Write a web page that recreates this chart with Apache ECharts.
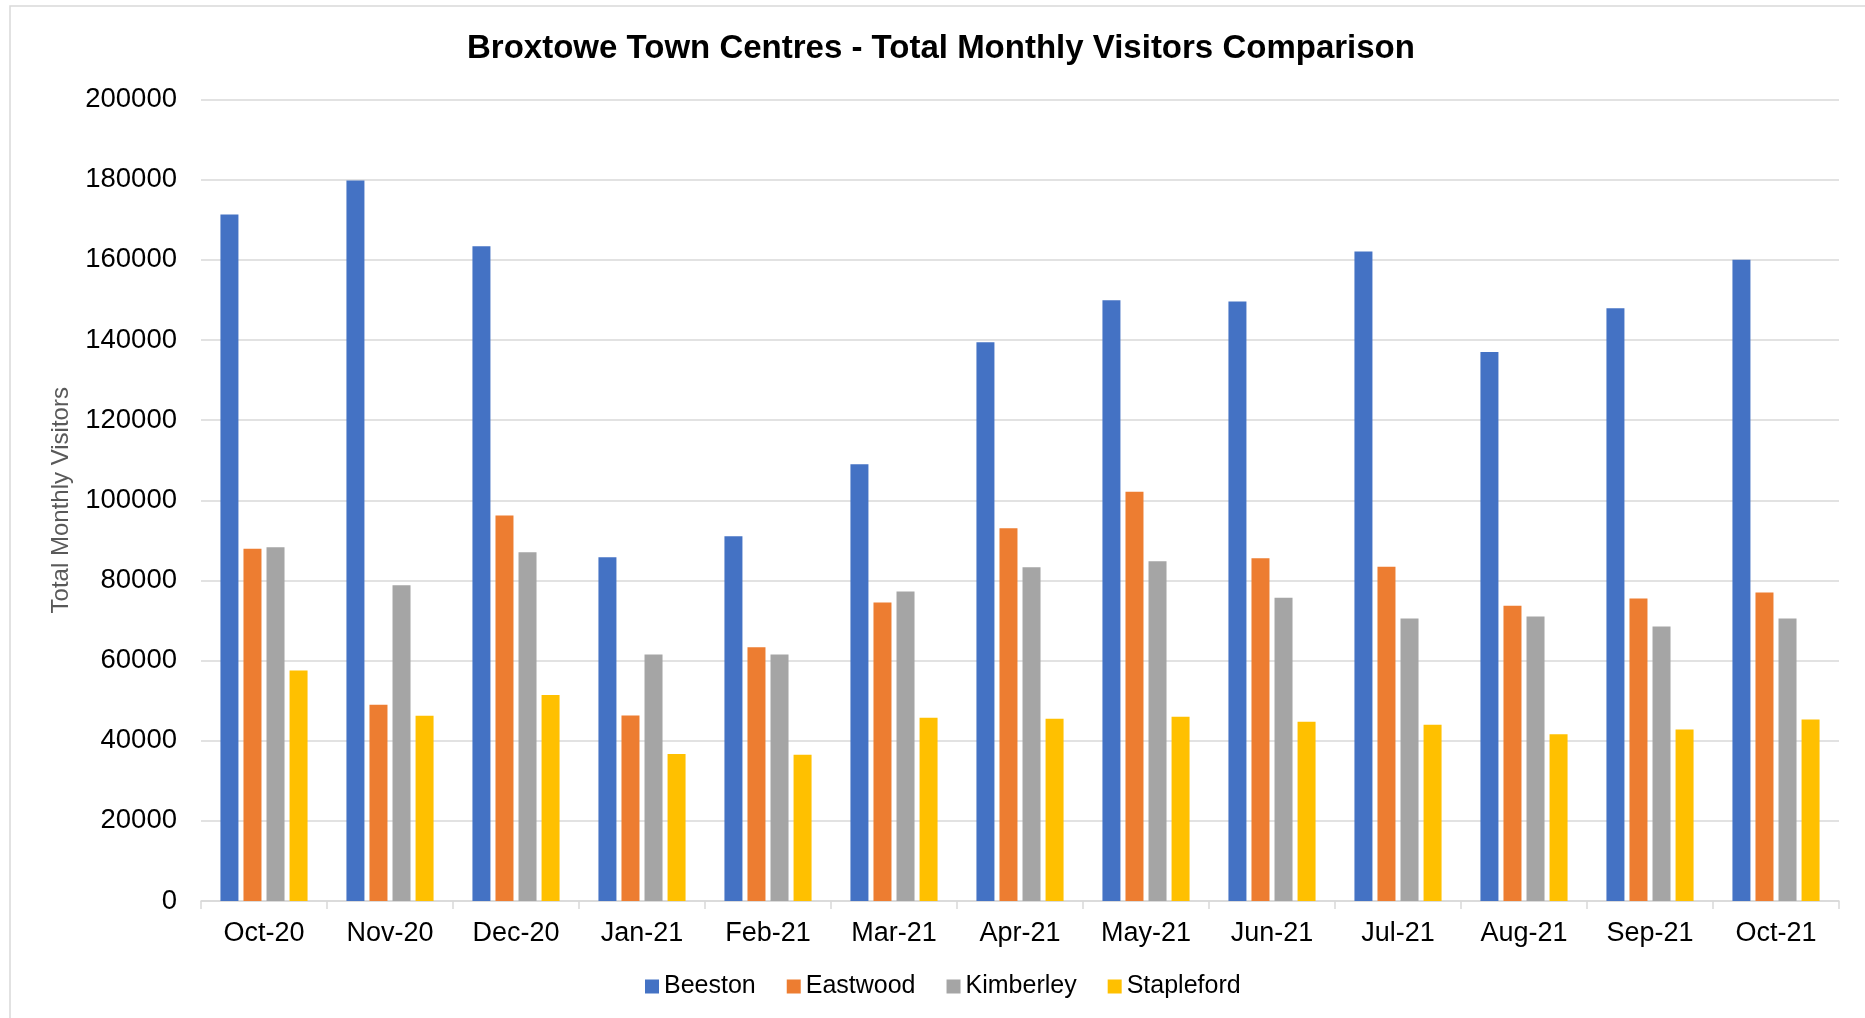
<!DOCTYPE html>
<html>
<head>
<meta charset="utf-8">
<style>
  html, body { margin: 0; padding: 0; background: #ffffff; }
  #chart { width: 1865px; height: 1018px; }
</style>
<script src="https://cdn.jsdelivr.net/npm/echarts@6/dist/echarts.min.js"></script>
</head>
<body>
<div id="chart"></div>
<script>
const categories = ['Oct-20','Nov-20','Dec-20','Jan-21','Feb-21','Mar-21','Apr-21','May-21','Jun-21','Jul-21','Aug-21','Sep-21','Oct-21'];
const beeston    = [171300, 179800, 163400, 85800, 91000, 109000, 139400, 149900, 149600, 162100, 137000, 147900, 160000];
const eastwood   = [87900, 49000, 96200, 46300, 63300, 74500, 93000, 102100, 85500, 83400, 73700, 75500, 77000];
const kimberley  = [88300, 78800, 87000, 61500, 61500, 77200, 83300, 84800, 75700, 70500, 71000, 68500, 70500];
const stapleford = [57500, 46200, 51400, 36700, 36500, 45700, 45500, 46000, 44700, 44000, 41600, 42800, 45300];
const seriesNames = ['Beeston', 'Eastwood', 'Kimberley', 'Stapleford'];
const seriesColors = ['#4472C4', '#ED7D31', '#A5A5A5', '#FFC000'];
const seriesData = [beeston, eastwood, kimberley, stapleford];

const FONT = '"Liberation Sans", Arial, Helvetica, sans-serif';

const chart = echarts.init(document.getElementById('chart'), null, { renderer: 'canvas' });
chart.setOption({
  animation: false,
  backgroundColor: '#ffffff',
  textStyle: { fontFamily: FONT },
  graphic: [{
    type: 'rect',
    shape: { x: 10, y: 6, width: 2000, height: 2000 },
    style: { fill: 'none', stroke: '#d9d9d9', lineWidth: 1.5 },
    silent: true,
    z: -10
  }],
  title: {
    text: 'Broxtowe Town Centres - Total Monthly Visitors Comparison',
    left: 467,
    top: 32,
    padding: 0,
    textStyle: { fontFamily: FONT, fontSize: 33, fontWeight: 'bold', color: '#000000' }
  },
  legend: {
    data: seriesNames,
    left: 645,
    top: 974,
    padding: 0,
    itemWidth: 14,
    itemHeight: 14,
    itemGap: 31,
    icon: 'rect',
    textStyle: { fontFamily: FONT, fontSize: 25, color: '#000000' }
  },
  grid: {
    left: 201,
    right: 26,
    top: 99.5,
    bottom: 117,
    containLabel: false
  },
  xAxis: {
    type: 'category',
    data: categories,
    boundaryGap: true,
    axisLine: { show: true, lineStyle: { color: '#d9d9d9', width: 1.5 } },
    axisTick: { show: true, length: 8, lineStyle: { color: '#d9d9d9', width: 1.5 } },
    axisLabel: { fontFamily: FONT, fontSize: 27, color: '#000000', margin: 19, interval: 0 },
    splitLine: { show: false }
  },
  yAxis: {
    type: 'value',
    min: 0,
    max: 200000,
    interval: 20000,
    name: 'Total Monthly Visitors',
    nameLocation: 'middle',
    nameGap: 128,
    nameTextStyle: { fontFamily: FONT, fontSize: 24, color: '#595959' },
    axisLine: { show: false },
    axisTick: { show: false },
    axisLabel: {
      fontFamily: FONT, fontSize: 27.5, color: '#000000', margin: 24,
      formatter: function (v) { return String(v); }
    },
    splitLine: { show: true, lineStyle: { color: '#d9d9d9', width: 1.5 } }
  },
  series: seriesNames.map((name, i) => ({
    name: name,
    type: 'bar',
    data: seriesData[i],
    barWidth: 18,
    barGap: '28%',
    itemStyle: { color: seriesColors[i] }
  }))
});
</script>
</body>
</html>
